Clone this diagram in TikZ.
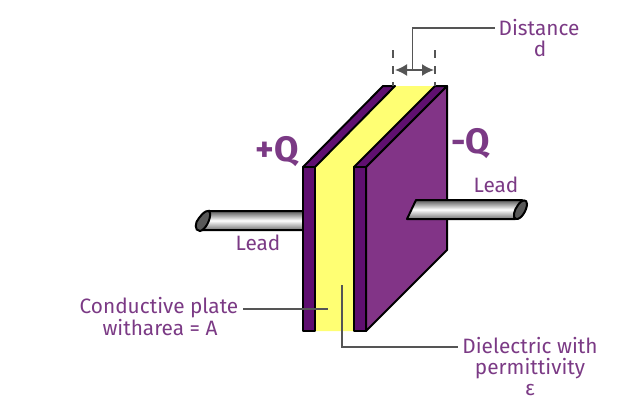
\documentclass[tikz,border=0pt]{standalone}
\usepackage{fontspec}
\setmainfont{Fira Sans}
\usetikzlibrary{arrows.meta}
\definecolor{txtp}{HTML}{7B3A85}
\definecolor{plate}{HTML}{5F0F70}
\definecolor{face}{HTML}{823487}
\definecolor{diel}{HTML}{FFFF73}
\definecolor{ln}{HTML}{555555}
\tikzset{
  lbl/.style={text=txtp,font=\fontsize{15.6pt}{17pt}\selectfont,inner sep=0pt,align=center,anchor=base},
  chg/.style={text=txtp,font=\fontsize{26.5pt}{28pt}\selectfont\bfseries,inner sep=0pt},
  edge/.style={draw=black,line width=1.5pt,line join=round},
  leader/.style={draw=ln,line width=1.3pt},
  wire/.style={top color=black!65,bottom color=black!55,middle color=white,draw=black,line width=1.5pt,line join=round},
  wireend/.style={fill=black!65,draw=black,line width=1.5pt}
}
\begin{document}
\begin{tikzpicture}[x=0.75pt,y=-0.75pt]
\useasboundingbox (0,0) rectangle (632,405);
% left lead
\path[wire] (209,211) -- (303,211) -- (303,230) -- (200,230) -- cycle;
\path[wireend] (200,231) .. controls (194,231) and (195,222) .. (199,218) .. controls (203,212) and (210,208) .. (210,213) .. controls (211,220) and (205,230) .. (200,231) -- cycle;
% dielectric
\fill[diel] (315,167) -- (395,86) -- (435,86) -- (355,167) -- (355,331) -- (315,331) -- cycle;
% left plate
\path[edge,fill=plate] (303,167) -- (383,86) -- (395,86) -- (315,167) -- cycle;
\path[edge,fill=plate] (303,167) rectangle (315,331);
% right plate
\path[edge,fill=face] (366,167) -- (447,86) -- (447,250) -- (366,331) -- cycle;
\path[edge,fill=plate] (354,167) -- (435,86) -- (447,86) -- (366,167) -- cycle;
\path[edge,fill=plate] (354,167) rectangle (366,331);
% right lead
\path[wire] (416,200) -- (522,200) -- (515,219) -- (407,219) -- cycle;
\path[wireend] (516,219) .. controls (512,218) and (514,210) .. (518,205) .. controls (522,199) and (527,199) .. (527,204) .. controls (527,210) and (521,220) .. (516,219) -- cycle;
% dimension
\coordinate (d1t) at (393,50); \coordinate (d1b) at (393,86);
\coordinate (d2t) at (435,50); \coordinate (d2b) at (435,86);
\draw[draw=ln,line width=1.3pt,dash pattern=on 6pt off 6pt] (d1t) -- (d1b);
\draw[draw=ln,line width=1.3pt,dash pattern=on 6pt off 6pt] (d2t) -- (d2b);
\coordinate (al) at (395,70); \coordinate (ar) at (434,70);
\draw[leader,{Latex[length=9pt,width=9pt]}-{Latex[length=9pt,width=9pt]}] (al) -- (ar);
% labels
\node[lbl] (dist) at (539,35) {Distance};
\node[lbl] (dd) at (540,56) {d};
\node[lbl] (lead1) at (258,250) {Lead};
\node[lbl] (lead2) at (496,192) {Lead};
\node[lbl] (cp1) at (159,313) {Conductive plate};
\node[lbl] (cp2) at (160,335) {witharea = A};
\node[lbl] (de1) at (530,353) {Dielectric with};
\node[lbl] (de2) at (530,374) {permittivity};
\node[lbl] (de3) at (530,395) {ε};
\node[chg] (pq) at (277.5,152) {+Q};
\node[chg] (mq) at (470.5,144) {-Q};
% leaders
\coordinate (dm) at (412.5,70);
\coordinate (dt) at (495,28);
\coordinate (cps) at (243,309);
\coordinate (cpe) at (328,309);
\coordinate (dee) at (342,285);
\coordinate (des) at (458,347);
\draw[leader] (dm) -- (412.5,28) -- (dt);
\draw[leader] (cps) -- (cpe);
\draw[leader] (dee) -- (342,347) -- (des);
\end{tikzpicture}
\end{document}
